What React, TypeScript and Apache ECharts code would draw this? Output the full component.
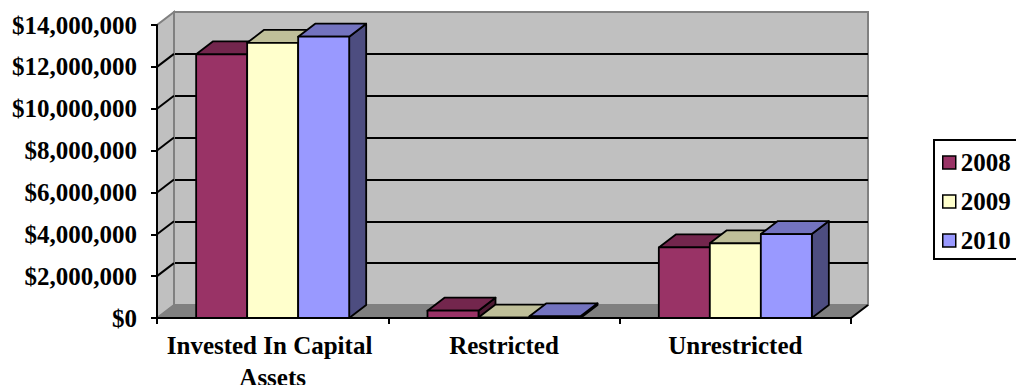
import React, { useEffect, useRef } from "react";
import * as echarts from "echarts";

const categories = ["Invested In Capital Assets", "Restricted", "Unrestricted"];
const years = ["2008", "2009", "2010"];
const values2008 = [12600000, 350000, 3370000];
const values2009 = [13150000, 20000, 3570000];
const values2010 = [13440000, 80000, 4010000];
const yTicks = [0, 2000000, 4000000, 6000000, 8000000, 10000000, 12000000, 14000000];

const FRONT = ["#993366", "#FFFFCC", "#9999FF"];
const TOP = ["#73264D", "#BFBF99", "#7373BF"];
const SIDE = ["#4D1A33", "#808066", "#4D4D80"];
const DX = 17;
const DY = -13;
const FONT = "'Liberation Serif', 'Times New Roman', serif";
const FS = 25;

export default function App() {
  const ref = useRef<HTMLDivElement>(null);
  useEffect(() => {
    if (!ref.current) return;
    const chart = echarts.init(ref.current, null, { renderer: "svg" });
    const seriesValues = [values2008, values2009, values2010];

    const barSeries = seriesValues.map((vals, si) => ({
      name: years[si],
      type: "custom",
      xAxisIndex: 0,
      yAxisIndex: 0,
      z: 3,
      itemStyle: { color: FRONT[si], borderColor: "#000", borderWidth: 1.5 },
      data: vals.map((v, i) => [i, v]),
      renderItem: (params: any, api: any) => {
        const ci = api.value(0);
        const v = api.value(1);
        const base = api.coord([ci, 0]);
        const top = api.coord([ci, v]);
        const catW = api.size([1, 0])[0];
        const bw = catW * 0.2205;
        const x0 = base[0] - 1.5 * bw + si * bw;
        const x1 = x0 + bw;
        const yb = base[1];
        const yt = top[1];
        const stroke = { stroke: "#000", lineWidth: 1.8, lineJoin: "round" };
        return {
          type: "group",
          children: [
            {
              type: "polygon",
              shape: { points: [[x1, yb], [x1 + DX, yb + DY], [x1 + DX, yt + DY], [x1, yt]] },
              style: { fill: SIDE[si], ...stroke },
            },
            {
              type: "polygon",
              shape: { points: [[x0, yt], [x0 + DX, yt + DY], [x1 + DX, yt + DY], [x1, yt]] },
              style: { fill: TOP[si], ...stroke },
            },
            {
              type: "rect",
              shape: { x: x0, y: yt, width: bw, height: Math.max(yb - yt, 0) },
              style: { fill: FRONT[si], ...stroke },
            },
          ],
        };
      },
    }));

    const decor = {
      name: "decor",
      type: "custom",
      xAxisIndex: 0,
      yAxisIndex: 0,
      z: 1,
      silent: true,
      data: [[0, 0]],
      renderItem: (params: any, api: any) => {
        const cs = params.coordSys;
        const L = cs.x;
        const R = cs.x + cs.width;
        const B = api.coord([0, 0])[1];
        const T = api.coord([0, yTicks[yTicks.length - 1]])[1];
        const children: any[] = [
          {
            type: "polygon",
            shape: { points: [[L, B], [L + DX, B + DY], [L + DX, T + DY], [L, T]] },
            style: { fill: "#C0C0C0", stroke: "#808080", lineWidth: 2 },
          },
          {
            type: "polygon",
            shape: { points: [[L, B], [L + DX, B + DY], [R + DX, B + DY], [R, B]] },
            style: { fill: "#808080", stroke: "#808080", lineWidth: 1 },
          },
          {
            type: "line",
            shape: { x1: R, y1: B, x2: R + DX, y2: B + DY },
            style: { stroke: "#000", lineWidth: 2 },
          },
        ];
        yTicks.forEach((t, i) => {
          if (i === 0 || i === yTicks.length - 1) return;
          const y = api.coord([0, t])[1];
          children.push({
            type: "line",
            shape: { x1: L, y1: y, x2: L + DX, y2: y + DY },
            style: { stroke: "#000", lineWidth: 2 },
          });
        });
        return { type: "group", children };
      },
    };

    const splitColors = yTicks.map((_, i) =>
      i === 0 || i === yTicks.length - 1 ? "#808080" : "#000"
    );

    chart.setOption({
      animation: false,
      backgroundColor: "#fff",
      textStyle: { fontFamily: FONT },
      grid: [
        {
          left: 157,
          top: 25,
          width: 694,
          height: 293,
          containLabel: false,
          outerBoundsMode: "none",
        },
        {
          left: 174,
          top: 12,
          width: 694,
          height: 293,
          show: true,
          backgroundColor: "#C0C0C0",
          borderColor: "#808080",
          borderWidth: 2,
          containLabel: false,
          outerBoundsMode: "none",
          z: 0,
        },
      ],
      legend: {
        data: years,
        orient: "vertical",
        left: 934,
        top: 140,
        borderColor: "#000",
        borderWidth: 2,
        backgroundColor: "#fff",
        padding: [10, 12, 6, 8],
        itemWidth: 13,
        itemHeight: 13,
        itemGap: 14,
        itemTextGap: 8,
        icon: "rect",
        itemStyle: { borderColor: "#000", borderWidth: 1.5 },
        textStyle: {
          fontFamily: FONT,
          fontSize: FS,
          fontWeight: "bold",
          color: "#000",
          lineHeight: 25,
        },
      },
      xAxis: [
        {
          type: "category",
          gridIndex: 0,
          data: categories,
          axisLine: { show: true, lineStyle: { color: "#000", width: 2 } },
          axisTick: { show: true, length: 6, lineStyle: { color: "#000", width: 2 } },
          axisLabel: {
            interval: 0,
            fontFamily: FONT,
            fontSize: FS,
            fontWeight: "bold",
            color: "#000",
            margin: 11,
            width: 225,
            overflow: "break",
            lineHeight: 32,
          },
          splitLine: { show: false },
          z: 5,
        },
        {
          type: "category",
          gridIndex: 1,
          data: categories,
          show: false,
        },
      ],
      yAxis: [
        {
          type: "value",
          gridIndex: 0,
          min: 0,
          max: 14000000,
          interval: 2000000,
          axisLine: { show: true, lineStyle: { color: "#000", width: 2 } },
          axisTick: { show: true, length: 6, lineStyle: { color: "#000", width: 2 } },
          axisLabel: {
            fontFamily: FONT,
            fontSize: FS,
            fontWeight: "bold",
            color: "#000",
            margin: 20,
            formatter: (v: number) => "$" + v.toLocaleString("en-US"),
          },
          splitLine: { show: false },
          z: 5,
        },
        {
          type: "value",
          gridIndex: 1,
          min: 0,
          max: 14000000,
          interval: 2000000,
          axisLine: { show: false },
          axisTick: { show: false },
          axisLabel: { show: false },
          splitLine: { show: true, lineStyle: { color: splitColors, width: 2 } },
        },
      ],
      series: [decor, ...barSeries],
    });
    return () => chart.dispose();
  }, []);
  return (
    <div
      ref={ref}
      style={{ position: "fixed", left: 0, top: 0, width: 1016, height: 385 }}
    />
  );
}
